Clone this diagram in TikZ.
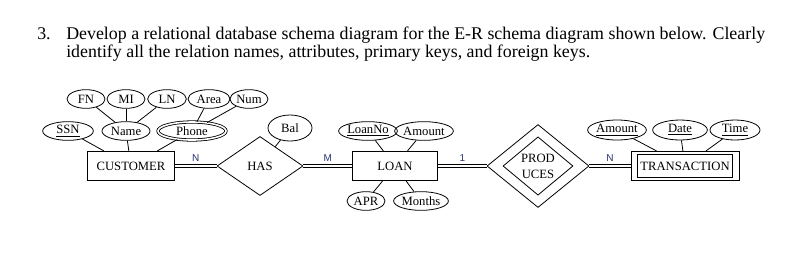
\documentclass[tikz,border=0pt]{standalone}
\usepackage{fontspec}
\setmainfont{Liberation Serif}
\setsansfont{Liberation Sans}
\usetikzlibrary{shapes.geometric}

\definecolor{cardblue}{RGB}{40,50,110}
\newcommand{\erfont}{\fontsize{9.5}{12}\selectfont}
\newcommand{\qfont}{\fontsize{13.4}{13.5}\selectfont}

\tikzset{
  attr/.style={draw, ellipse, line width=0.6pt, inner sep=0pt, minimum height=14pt, font=\erfont},
  multi/.style={attr, double, double distance=1.2pt},
  entity/.style={draw, rectangle, line width=0.6pt, inner sep=0pt, minimum height=22pt, font=\erfont},
  rel/.style={draw, diamond, line width=0.6pt, inner sep=0pt, font=\erfont, align=center},
  conn/.style={line width=0.6pt},
  total/.style={double, line width=1pt, double distance=0.9pt},
  card/.style={font=\sffamily\fontsize{7.5}{8}\selectfont, text=cardblue, inner sep=1pt, above=2pt}
}

\begin{document}
\begin{tikzpicture}[x=0.75pt, y=-0.75pt]
\useasboundingbox (0,0) rectangle (810,255);

% Question text
\node[anchor=base west, font=\qfont, inner sep=0pt] (qnum) at (37,39) {3.};
\node[anchor=base west, font=\qfont, inner sep=0pt] (qline1) at (66,39)
  {Develop a relational database schema diagram for the E-R schema diagram shown below. Clearly};
\node[anchor=base west, font=\qfont, inner sep=0pt] (qline2) at (66,57)
  {identify all the relation names, attributes, primary keys, and foreign keys.};

% Entities
\node[entity, minimum width=65pt] (cust) at (131,166) {CUSTOMER};
\node[entity, minimum width=64pt] (loan) at (395,166) {LOAN};
\node[entity, minimum width=81pt, minimum height=22pt] (transo) at (685,166) {};
\node[entity, minimum width=71pt, minimum height=17pt] (trans) at (685,166) {TRANSACTION};

% Relationships
\node[rel, minimum width=64.5pt, minimum height=44.25pt] (has) at (260,166) {HAS};
\node[rel, minimum width=76.5pt, minimum height=62.25pt] (prodo) at (538,166) {};
\node[rel, minimum width=52.5pt, minimum height=33.75pt] (prod) at (538,166) {PROD\\UCES};

% Attributes of customer
\foreach \id/\x/\w/\lbl in {fn/86/28.5/FN, mi/126/28.5/MI, ln/167/29/LN, area/209/31.5/Area, num/249/28.5/Num}
  \node[attr, minimum width=\w pt] (\id) at (\x,99) {\lbl};
\node[attr, minimum width=38pt] (ssn) at (68,131) {\underline{SSN}};
\node[attr, minimum width=36pt] (name) at (126,131) {Name};
\node[multi, minimum width=51pt, minimum height=13.5pt] (phone) at (192,131) {Phone};

% Attribute of relationship
\node[attr, minimum width=33pt, minimum height=19.5pt] (bal) at (290,128) {Bal};

% Attributes of loan
\node[attr, minimum width=43.5pt] (loanno) at (368,131) {\underline{LoanNo}};
\node[attr, minimum width=40.5pt] (amount) at (424,131) {Amount};
\node[attr, minimum width=28.5pt] (apr) at (366,201) {APR};
\node[attr, minimum width=40pt] (months) at (421,201) {Months};

% Attributes of transaction
\node[attr, minimum width=43.5pt, minimum height=15pt] (tamount) at (617,130) {\underline{Amount}};
\node[attr, minimum width=41pt, minimum height=15pt] (date) at (680,130) {\underline{Date}};
\node[attr, minimum width=37.5pt, minimum height=15pt] (time) at (735,130) {\underline{Time}};

% Attribute links
\foreach \a/\b in {fn/name, mi/name, ln/name, area/phone, num/phone,
                   ssn/cust, name/cust, phone/cust, bal/has,
                   loanno/loan, amount/loan, apr/loan, months/loan,
                   tamount/transo, date/transo, time/transo}
  \draw[conn] (\a) -- (\b);

% Participation
\draw[total] (cust) -- node[card] {N} (has);
\draw[total] (has) -- node[card] {M} (loan);
\draw[total] (loan) -- node[card] {1} (prodo);
\draw[total] (prodo) -- node[card] {N} (transo);

\end{tikzpicture}
\end{document}
